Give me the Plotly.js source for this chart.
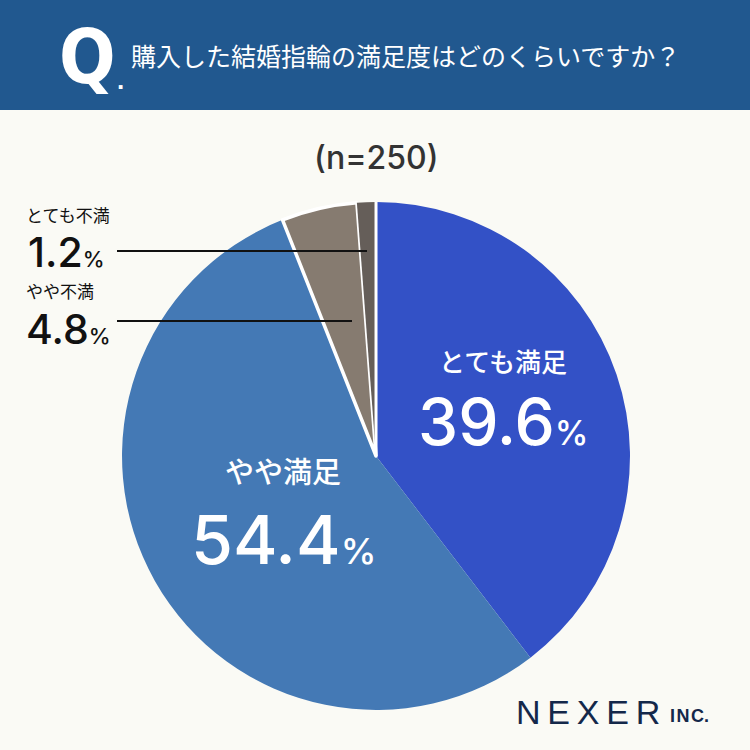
<!DOCTYPE html>
<html>
<head>
<meta charset="utf-8">
<script src="https://cdn.plot.ly/plotly-3.0.1.min.js"></script>
<style>
  html, body { margin: 0; padding: 0; background: #fafaf5; }
  #chart { width: 750px; height: 750px; }
</style>
</head>
<body>
<div id="chart"></div>
<script>
// Survey: satisfaction with purchased wedding rings (n=250)
const categories = ['とても満足', 'やや満足', 'やや不満', 'とても不満'];
const values = [39.6, 54.4, 4.8, 1.2];
const colors = ['#3351c6', '#4479b5', '#867b70', '#655e59'];
const question = '購入した結婚指輪の満足度はどのくらいですか？';
const sampleNote = '(n=250)';

const JP = '"Noto Sans CJK JP", "Noto Sans", sans-serif';
const NUM = 'Inter, "Noto Sans", sans-serif';

// pie placement (paper coordinates)
const domX = [0.1627, 0.84];
const domY = [0.0533, 0.7307];
const cx = (domX[0] + domX[1]) / 2;
const cy = (domY[0] + domY[1]) / 2;

function pct(v, big, small) {
  return '<span style="font-size:' + big + 'px">' + v.toFixed(1) + '</span>' +
         '<span style="font-size:' + small + 'px">%</span>';
}

const trace = {
  type: 'pie',
  labels: categories,
  values: values,
  sort: false,
  direction: 'clockwise',
  rotation: 0,
  textinfo: 'none',
  hoverinfo: 'label+percent',
  domain: { x: domX, y: domY },
  marker: {
    colors: colors,
    line: { color: '#ffffff', width: [0, 0, 3.5, 0] }
  },
  showlegend: false
};

const annotations = [
  // header question
  { xref: 'paper', yref: 'paper', x: 0.076, y: 1 - 57 / 750, xanchor: 'left', yanchor: 'middle',
    text: '<b>Q</b>', showarrow: false,
    font: { family: '"Liberation Sans Narrow", "DejaVu Sans Condensed", sans-serif', size: 74, color: '#ffffff' } },
  { xref: 'paper', yref: 'paper', x: 0.153, y: 1 - 80 / 750, xanchor: 'left', yanchor: 'middle',
    text: '<b>.</b>', showarrow: false,
    font: { family: '"Liberation Sans", sans-serif', size: 26, color: '#ffffff' } },
  { xref: 'paper', yref: 'paper', x: 0.172, y: 1 - 55 / 750, xanchor: 'left', yanchor: 'middle',
    text: question, showarrow: false,
    font: { family: JP, size: 25, color: '#ffffff' } },
  // sample size
  { xref: 'paper', yref: 'paper', x: cx, y: 1 - 157 / 750, xanchor: 'center', yanchor: 'middle',
    text: sampleNote, showarrow: false,
    font: { family: NUM, size: 32, color: '#333333', weight: 500 } },
  // inside labels
  { xref: 'paper', yref: 'paper', x: 503 / 750, y: 1 - 360 / 750, xanchor: 'center', yanchor: 'middle',
    text: categories[0], showarrow: false,
    font: { family: JP, size: 26, color: '#ffffff', weight: 500 } },
  { xref: 'paper', yref: 'paper', x: 503 / 750, y: 1 - 421 / 750, xanchor: 'center', yanchor: 'middle',
    text: pct(values[0], 64, 34), showarrow: false,
    font: { family: NUM, size: 64, color: '#ffffff', weight: 500 } },
  { xref: 'paper', yref: 'paper', x: 283 / 750, y: 1 - 470 / 750, xanchor: 'center', yanchor: 'middle',
    text: categories[1], showarrow: false,
    font: { family: JP, size: 29, color: '#ffffff', weight: 500 } },
  { xref: 'paper', yref: 'paper', x: 283 / 750, y: 1 - 539 / 750, xanchor: 'center', yanchor: 'middle',
    text: pct(values[1], 68, 36), showarrow: false,
    font: { family: NUM, size: 68, color: '#ffffff', weight: 500 } },
  // outside labels
  { xref: 'paper', yref: 'paper', x: 24 / 750, y: 1 - 214 / 750, xanchor: 'left', yanchor: 'middle',
    text: categories[3], showarrow: false,
    font: { family: JP, size: 17, color: '#111111' } },
  { xref: 'paper', yref: 'paper', x: 26 / 750, y: 1 - 252 / 750, xanchor: 'left', yanchor: 'middle',
    text: pct(values[3], 41, 22), showarrow: false,
    font: { family: NUM, size: 41, color: '#111111', weight: 500 } },
  { xref: 'paper', yref: 'paper', x: 24 / 750, y: 1 - 290 / 750, xanchor: 'left', yanchor: 'middle',
    text: categories[2], showarrow: false,
    font: { family: JP, size: 17, color: '#111111' } },
  { xref: 'paper', yref: 'paper', x: 24 / 750, y: 1 - 329 / 750, xanchor: 'left', yanchor: 'middle',
    text: pct(values[2], 41, 22), showarrow: false,
    font: { family: NUM, size: 41, color: '#111111', weight: 500 } },
  // logo
  { xref: 'paper', yref: 'paper', x: 514 / 750, y: 1 - 712 / 750, xanchor: 'left', yanchor: 'middle',
    text: 'N\u2009E\u2009X\u2009E\u2009R', showarrow: false,
    font: { family: '"Liberation Sans", sans-serif', size: 34, color: '#14284a' } },
  { xref: 'paper', yref: 'paper', x: 668 / 750, y: 1 - 716 / 750, xanchor: 'left', yanchor: 'middle',
    text: '<b>I\u200aN\u200aC.</b>', showarrow: false,
    font: { family: '"Liberation Sans", sans-serif', size: 18, color: '#14284a' } }
];

const shapes = [
  // header band
  { type: 'rect', xref: 'paper', yref: 'paper', x0: 0, x1: 1, y0: 1 - 110 / 750, y1: 1,
    fillcolor: '#21588f', line: { width: 0 }, layer: 'below' },
  // separator at 12 o'clock
  { type: 'line', xref: 'paper', yref: 'paper', x0: cx, x1: cx, y0: cy, y1: domY[1],
    line: { color: '#ffffff', width: 3 } },
  // leader lines
  { type: 'line', xref: 'paper', yref: 'paper', x0: 117 / 750, x1: 367 / 750, y0: 1 - 251 / 750, y1: 1 - 251 / 750,
    line: { color: '#111111', width: 2 } },
  { type: 'line', xref: 'paper', yref: 'paper', x0: 117 / 750, x1: 352 / 750, y0: 1 - 321 / 750, y1: 1 - 321 / 750,
    line: { color: '#111111', width: 2 } }
];

const layout = {
  width: 750,
  height: 750,
  margin: { l: 0, r: 0, t: 0, b: 0 },
  paper_bgcolor: '#fafaf5',
  plot_bgcolor: '#fafaf5',
  annotations: annotations,
  shapes: shapes
};

Plotly.newPlot('chart', [trace], layout, { displayModeBar: false, staticPlot: true });
</script>
</body>
</html>
